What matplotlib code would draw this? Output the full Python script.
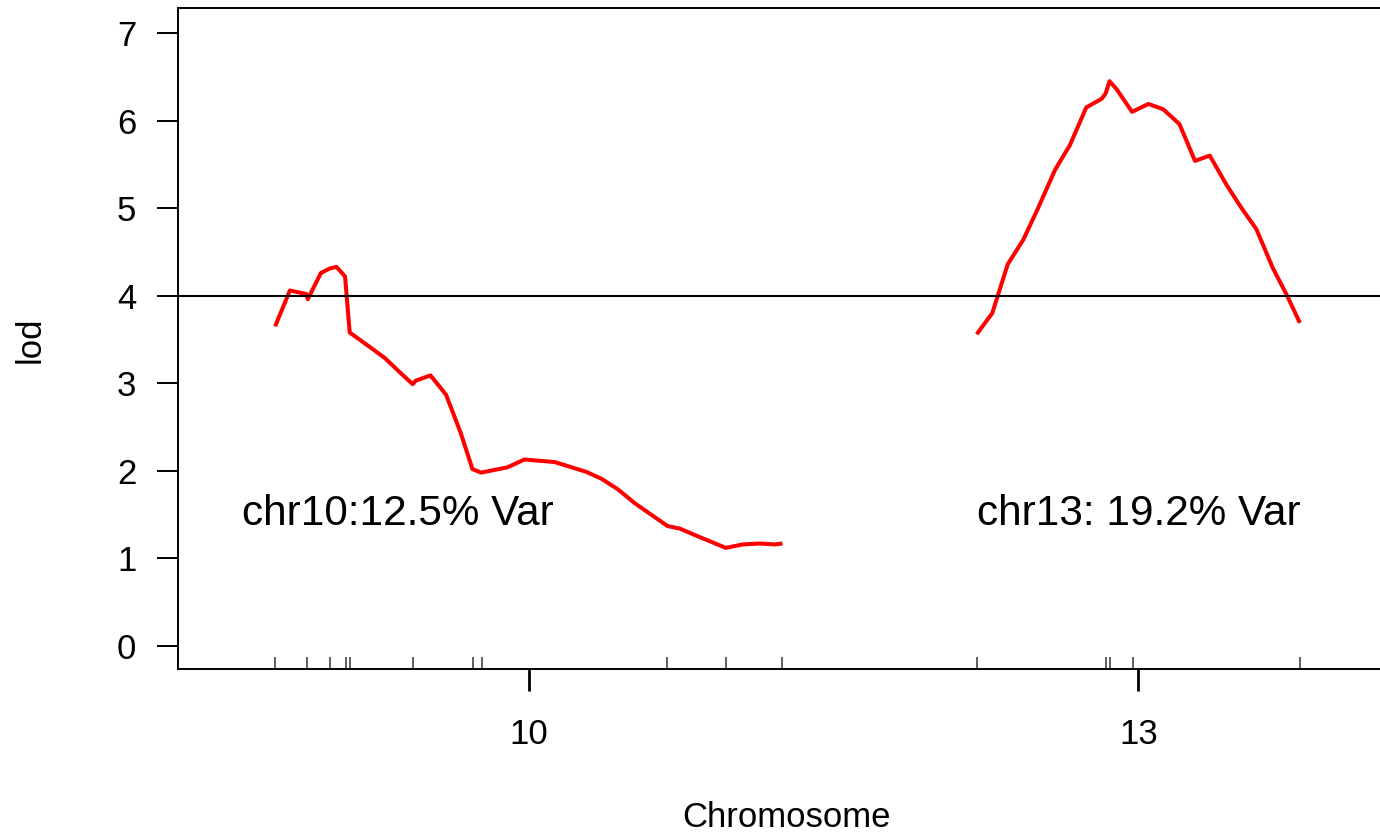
import matplotlib
matplotlib.use("Agg")
from matplotlib import pyplot as plt
import numpy as np

plt.rcParams["font.family"] = ["Liberation Sans", "DejaVu Sans"]

# chromosome lengths (cM) and the gap R/qtl puts between them
chr_names = ["10", "13"]
chr_lengths = [65.3, 41.6]
gap = 25.0

# marker positions (cM within chromosome)
markers_10 = [0.0, 4.1, 7.1, 9.1, 9.7, 17.7, 25.5, 26.6, 50.5, 58.0, 65.3]
markers_13 = [0.0, 16.6, 17.1, 20.1, 41.6]

# lod profile, chr 10
pos_10 = [0.0, 1.9, 4.0, 4.2, 5.9, 7.0, 7.9, 9.0, 9.6, 12.1, 14.1, 16.0,
          17.7, 18.1, 20.0, 22.0, 23.9, 25.4, 26.5, 29.9, 32.1, 36.0,
          40.0, 42.0, 44.1, 46.3, 48.4, 50.5, 52.1, 54.2, 56.4, 58.0,
          60.2, 62.4, 64.3, 65.3]
lod_10 = [3.65, 4.06, 4.02, 3.96, 4.26, 4.31, 4.33, 4.22, 3.58, 3.42, 3.29, 3.13,
          2.99, 3.03, 3.09, 2.87, 2.43, 2.02, 1.98, 2.04, 2.13, 2.10,
          1.99, 1.91, 1.79, 1.63, 1.50, 1.37, 1.34, 1.26, 1.18, 1.12,
          1.16, 1.17, 1.16, 1.17]

# lod profile, chr 13
pos_13 = [0.0, 2.0, 4.0, 6.0, 7.9, 10.1, 12.0, 14.1, 16.1, 16.6, 17.1, 18.0,
          20.0, 22.1, 24.0, 26.1, 28.1, 30.0, 32.2, 34.1, 36.0, 38.1, 39.9, 41.6]
lod_13 = [3.56, 3.80, 4.36, 4.64, 5.00, 5.44, 5.72, 6.15, 6.25, 6.31, 6.45, 6.36,
          6.10, 6.19, 6.13, 5.96, 5.54, 5.60, 5.26, 5.00, 4.76, 4.32, 4.01, 3.69]

threshold = 4.0
notes = ["chr10:12.5% Var", "chr13: 19.2% Var"]

# offsets of each chromosome on the concatenated axis
offsets = [0.0, chr_lengths[0] + gap]

fig = plt.figure(figsize=(13.8, 8.33), dpi=100)
ax = fig.add_axes([178 / 1380, 164 / 833, (1397 - 178) / 1380, (669 - 8) / 833])

for off, pos, lod in zip(offsets, [pos_10, pos_13], [lod_10, lod_13]):
    ax.plot(np.array(pos) + off, lod, color="red", lw=2.9, solid_capstyle="butt")

ax.axhline(threshold, color="black", lw=1.5)

# marker rug
rug_h = 12 / 661
for off, mk in zip(offsets, [markers_10, markers_13]):
    ax.vlines(np.array(mk) + off, 0, rug_h, transform=ax.get_xaxis_transform(),
              color="#333333", lw=1.1)

ax.text(offsets[0] - 4.25, 1.38, notes[0], fontsize=30.4, va="baseline", ha="left")
ax.text(offsets[1], 1.38, notes[1], fontsize=30.4, va="baseline", ha="left")

ax.set_xlim(-gap / 2, offsets[1] + chr_lengths[1] + gap / 2)
ax.set_ylim(-0.263, 7.286)

mids = [o + L / 2 for o, L in zip(offsets, chr_lengths)]
ax.set_xticks(mids)
ax.set_xticklabels(chr_names)
ax.set_yticks(range(0, 8))
ax.tick_params(axis="y", direction="out", length=15, width=1.4, labelsize=25, pad=15)
ax.tick_params(axis="x", direction="out", length=15.5, width=2, labelsize=25, pad=20)

for s in ax.spines.values():
    s.set_linewidth(1.4)

fig.text(30 / 1380, 1 - 340 / 833, "lod", rotation=90, ha="center", va="center", fontsize=25)
fig.text(787 / 1380, 1 - 827 / 833, "Chromosome", ha="center", va="baseline", fontsize=25)

fig.savefig("out.png", dpi=100)
